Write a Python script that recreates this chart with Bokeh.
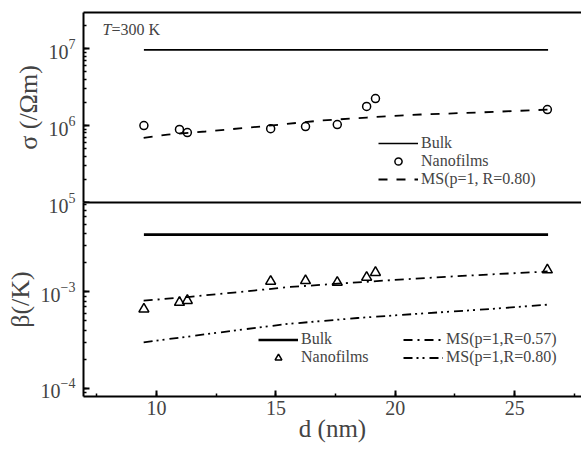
from bokeh.plotting import figure
from bokeh.models import (Range1d, LinearAxis, FixedTicker, Legend, LegendItem, Label,
                          SingleIntervalTicker)
from bokeh.layouts import column
from bokeh.embed import file_html
from bokeh.resources import INLINE

# ---------------- data ----------------
d_films = [9.47, 10.96, 11.29, 14.78, 16.24, 17.57, 18.80, 19.17, 26.37]
sigma_films = [1.0e6, 8.9e5, 8.1e5, 9.1e5, 9.7e5, 1.03e6, 1.77e6, 2.24e6, 1.61e6]
beta_films = [6.6e-4, 7.75e-4, 8.1e-4, 1.28e-3, 1.30e-3, 1.25e-3, 1.41e-3, 1.58e-3, 1.68e-3]

d_bulk = [9.47, 26.4]
sigma_bulk = [9.6e6, 9.6e6]
beta_bulk = [3.9e-3, 3.9e-3]

d_ms_sigma = [9.46, 10.46, 12.05, 14.36, 16.87, 18.80, 21.06, 23.57, 26.38]
sigma_ms080 = [6.89e5, 7.64e5, 8.36e5, 9.71e5, 1.16e6, 1.27e6, 1.39e6, 1.48e6, 1.61e6]

d_ms057 = [9.46, 11.3, 13.23, 15.61, 17.58, 19.68, 22.61, 26.38]
beta_ms057 = [8.07e-4, 8.8e-4, 9.8e-4, 1.12e-3, 1.21e-3, 1.31e-3, 1.45e-3, 1.62e-3]

d_ms080 = [9.46, 11.3, 13.23, 15.49, 18.42, 21.19, 23.99, 26.38]
beta_ms080 = [2.99e-4, 3.42e-4, 3.95e-4, 4.63e-4, 5.34e-4, 5.96e-4, 6.62e-4, 7.33e-4]

x_ticks_interval = 5
x_lim = (6.94, 27.80)
sigma_lim = (1e5, 2.94e7)
beta_lim = (8.2e-5, 8.4e-3)

FONT = "Liberation Serif"
W = 581
OVER = 16  # overlap so the 10^5 label of the top panel is not cut

xr = Range1d(*x_lim)


def style_axis(ax, label):
    ax.axis_line_width = 2
    ax.major_tick_in = 6
    ax.major_tick_out = 0
    ax.minor_tick_in = 3
    ax.minor_tick_out = 0
    ax.major_tick_line_width = 2
    ax.minor_tick_line_width = 1.5
    ax.major_label_standoff = 8
    ax.major_label_text_font = FONT
    ax.major_label_text_font_size = "20px"
    ax.axis_label = label
    ax.axis_label_text_font = FONT
    ax.axis_label_text_font_size = "26px"
    ax.axis_label_text_font_style = "normal"
    ax.axis_label_standoff = 3


def border_axis(p, side):
    ax = LinearAxis(ticker=FixedTicker(ticks=[]), axis_line_width=2,
                    major_tick_in=0, major_tick_out=0, minor_tick_in=0, minor_tick_out=0,
                    major_label_standoff=0, major_label_text_font_size="0px")
    p.add_layout(ax, side)


# ---------------- top panel ----------------
p1 = figure(width=W, height=12 + 190 + OVER, x_range=xr, y_range=Range1d(*sigma_lim),
            y_axis_type="log", x_axis_location=None,
            output_backend="svg", toolbar_location=None,
            min_border_left=83, min_border_right=0, min_border_top=12, min_border_bottom=OVER)
p1.grid.visible = False
p1.outline_line_color = None
style_axis(p1.yaxis[0], "σ (/Ωm)")
border_axis(p1, "above")
border_axis(p1, "below")

r_bulk1 = p1.line(d_bulk, sigma_bulk, line_color="black", line_width=1.6)
r_ms1 = p1.line(d_ms_sigma, sigma_ms080, line_color="black", line_width=1.8, line_dash="9 9")
r_f1 = p1.scatter(d_films, sigma_films, marker="circle", size=8, fill_color=None,
                  line_color="black", line_width=1.5)

leg1 = Legend(items=[LegendItem(label="Bulk", renderers=[r_bulk1]),
                     LegendItem(label="Nanofilms", renderers=[r_f1]),
                     LegendItem(label="MS(p=1, R=0.80)", renderers=[r_ms1])],
              location=(295, 14))

p1.add_layout(Label(x=7.74, y=1.77e7, text="T", text_font=FONT, text_font_style="italic",
                    text_font_size="16px", text_baseline="middle"))
p1.add_layout(Label(x=7.74, y=1.77e7, x_offset=9, text="=300 K", text_font=FONT,
                    text_font_size="16px", text_baseline="middle"))

# ---------------- bottom panel ----------------
p2 = figure(width=W, height=249, x_range=xr, y_range=Range1d(*beta_lim),
            y_axis_type="log", x_axis_location=None,
            output_backend="svg", toolbar_location=None,
            min_border_left=83, min_border_right=0, min_border_top=0, min_border_bottom=55)
p2.grid.visible = False
p2.outline_line_color = None
p2.border_fill_color = None
style_axis(p2.yaxis[0], "β(/K)")
border_axis(p2, "above")

xa = LinearAxis(ticker=SingleIntervalTicker(interval=x_ticks_interval, num_minor_ticks=2))
style_axis(xa, "d (nm)")
xa.major_label_standoff = 4
xa.major_label_text_font_size = "20px"
xa.axis_label_text_font_size = "25px"
xa.axis_label_standoff = -3
p2.add_layout(xa, "below")

r_bulk2 = p2.line(d_bulk, beta_bulk, line_color="black", line_width=2.6)
r_ms057 = p2.line(d_ms057, beta_ms057, line_color="black", line_width=1.8, line_dash="9 5 2 5")
r_ms080 = p2.line(d_ms080, beta_ms080, line_color="black", line_width=1.8,
                  line_dash="9 4 2 4 2 5")
r_f2 = p2.scatter(d_films, beta_films, marker="triangle", size=10, fill_color=None,
                  line_color="black", line_width=1.5)

leg2a = Legend(items=[LegendItem(label="Bulk", renderers=[r_bulk2]),
                      LegendItem(label="Nanofilms", renderers=[r_f2])],
               location=(175, 30))
leg2b = Legend(items=[LegendItem(label="MS(p=1,R=0.57)", renderers=[r_ms057]),
                      LegendItem(label="MS(p=1,R=0.80)", renderers=[r_ms080])],
               location=(320, 30))

for lg, h in [(leg1, 18), (leg2a, 17), (leg2b, 17)]:
    lg.border_line_color = None
    lg.background_fill_alpha = 0
    lg.padding = 0
    lg.margin = 0
    lg.spacing = 0
    lg.glyph_width = 40
    lg.glyph_height = h
    lg.label_height = h
    lg.label_standoff = 3
    lg.label_text_font = FONT
    lg.label_text_font_size = "16px"

p1.add_layout(leg1)
p2.add_layout(leg2a)
p2.add_layout(leg2b)

p2.margin = (-OVER, 0, 0, 0)

layout = column(p1, p2)
open("out.html", "w").write(file_html(layout, INLINE))
